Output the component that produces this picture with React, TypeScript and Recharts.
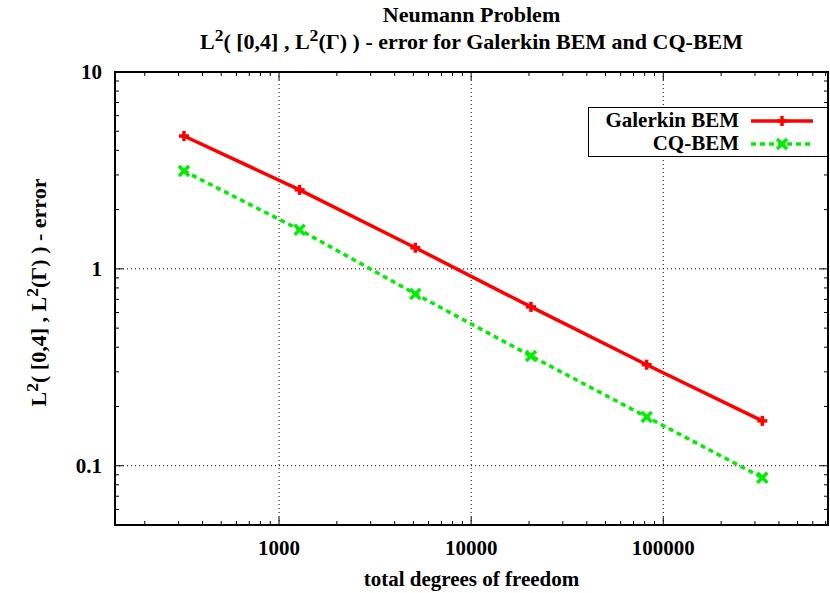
import { LineChart, Line, XAxis, YAxis, ReferenceLine, ReferenceArea } from 'recharts';

// total degrees of freedom for each refinement level
const dofs = [320, 1280, 5120, 20480, 81920, 327680];
// L2(L2) error values
const galerkinErr = [4.73, 2.52, 1.28, 0.641, 0.326, 0.169];
const cqErr = [3.14, 1.58, 0.746, 0.361, 0.177, 0.087];

const xMajor = [1000, 10000, 100000];
const yMajor = [0.1, 1, 10];
const mantissas = [2, 3, 4, 5, 6, 7, 8, 9];
const xMinor = [100, 1000, 10000, 100000].flatMap((d) => mantissas.map((m) => m * d)).filter((v) => v > 140 && v < 720000);
const yMinor = [0.01, 0.1, 1].flatMap((d) => mantissas.map((m) => m * d)).filter((v) => v >= 0.05 && v < 10);

const data = dofs.map((dof, i) => ({ dof, galerkin: galerkinErr[i], cq: cqErr[i] }));

const FONT = '"Liberation Serif", "Times New Roman", serif';
const FS = 21;
const PLOT_LEFT = 115;
const PLOT_RIGHT = 828;
const PLOT_TOP = 72;
const PLOT_BOTTOM = 525;

function XTick(props: any) {
  const { x, payload } = props;
  const major = xMajor.includes(payload.value);
  const len = major ? 8 : 4;
  return (
    <g>
      <line x1={x} x2={x} y1={PLOT_BOTTOM} y2={PLOT_BOTTOM - len} stroke="#000" strokeWidth={1} />
      <line x1={x} x2={x} y1={PLOT_TOP} y2={PLOT_TOP + len} stroke="#000" strokeWidth={1} />
      {major && (
        <text x={x} y={555} textAnchor="middle" fontFamily={FONT} fontWeight="bold" fontSize={FS} fill="#000">
          {payload.value}
        </text>
      )}
    </g>
  );
}

function YTick(props: any) {
  const { y, payload } = props;
  const major = yMajor.includes(payload.value);
  const len = major ? 8 : 4;
  return (
    <g>
      <line x1={PLOT_LEFT} x2={PLOT_LEFT + len} y1={y} y2={y} stroke="#000" strokeWidth={1} />
      <line x1={PLOT_RIGHT} x2={PLOT_RIGHT - len} y1={y} y2={y} stroke="#000" strokeWidth={1} />
      {major && (
        <text x={102} y={y + 7} textAnchor="end" fontFamily={FONT} fontWeight="bold" fontSize={FS} fill="#000">
          {payload.value}
        </text>
      )}
    </g>
  );
}

function PlusDot(props: any) {
  const { cx, cy } = props;
  return (
    <g>
      <line x1={cx - 5} x2={cx + 5} y1={cy} y2={cy} stroke="#ff0000" strokeWidth={3.5} />
      <line x1={cx} x2={cx} y1={cy - 5} y2={cy + 5} stroke="#ff0000" strokeWidth={3.5} />
    </g>
  );
}

function CrossDot(props: any) {
  const { cx, cy } = props;
  return (
    <g>
      <line x1={cx - 5} x2={cx + 5} y1={cy - 5} y2={cy + 5} stroke="#00ee00" strokeWidth={3.5} />
      <line x1={cx - 5} x2={cx + 5} y1={cy + 5} y2={cy - 5} stroke="#00ee00" strokeWidth={3.5} />
    </g>
  );
}

const sup = { fontSize: '0.8em', position: 'relative' as const, top: '-0.45em' };

export default function App() {
  return (
    <div style={{ position: 'absolute', left: 0, top: 0, width: 830, height: 593, background: '#fff', fontFamily: FONT }}>
      <LineChart width={830} height={593} data={data} margin={{ top: 72, right: 2, bottom: 28, left: 55 }}>
        <XAxis
          dataKey="dof"
          type="number"
          scale="log"
          domain={[140, 720000]}
          allowDataOverflow
          ticks={[...xMinor, ...xMajor]}
          interval={0}
          height={40}
          tick={<XTick />}
          tickLine={false}
          axisLine={false}
        />
        <YAxis
          type="number"
          scale="log"
          domain={[0.05, 10]}
          allowDataOverflow
          ticks={[...yMinor, ...yMajor]}
          interval={0}
          width={60}
          tick={<YTick />}
          tickLine={false}
          axisLine={false}
        />
        {xMajor.map((v) => (
          <ReferenceLine key={'gx' + v} x={v} stroke="#000" strokeWidth={1} strokeDasharray="1 3" />
        ))}
        {yMajor.filter((v) => v < 10).map((v) => (
          <ReferenceLine key={'gy' + v} y={v} stroke="#000" strokeWidth={1} strokeDasharray="1 3" />
        ))}
        <ReferenceArea x1={140} x2={720000} y1={0.05} y2={10} fill="none" stroke="#000" strokeWidth={2} />
        <Line dataKey="galerkin" stroke="#ff0000" strokeWidth={3.5} dot={<PlusDot />} isAnimationActive={false} />
        <Line dataKey="cq" stroke="#00ee00" strokeWidth={3.5} strokeDasharray="5 4" dot={<CrossDot />} isAnimationActive={false} />
      </LineChart>

      <div style={{ position: 'absolute', left: 115, width: 713, top: 1, textAlign: 'center', fontWeight: 'bold', fontSize: 22, lineHeight: '27px' }}>
        <div>Neumann Problem</div>
        <div>
          L<span style={sup}>2</span>( [0,4] , L<span style={sup}>2</span>(Γ) ) - error for Galerkin BEM and CQ-BEM
        </div>
      </div>

      <div style={{ position: 'absolute', left: 115, width: 713, top: 566, textAlign: 'center', fontWeight: 'bold', fontSize: FS, lineHeight: '26px' }}>
        total degrees of freedom
      </div>

      <div
        style={{
          position: 'absolute',
          left: 39,
          top: 292,
          width: 340,
          marginLeft: -170,
          marginTop: -14,
          textAlign: 'center',
          fontWeight: 'bold',
          fontSize: 22,
          lineHeight: '28px',
          transform: 'rotate(-90deg)',
          whiteSpace: 'nowrap',
        }}
      >
        L<span style={sup}>2</span>( [0,4] , L<span style={sup}>2</span>(Γ) ) - error
      </div>

      <div style={{ position: 'absolute', left: 588, top: 107, width: 238, height: 48, border: '1px solid #000', background: '#fff', fontWeight: 'bold', fontSize: FS, lineHeight: '22px' }}>
        <div style={{ position: 'absolute', right: 88, top: 1, whiteSpace: 'nowrap' }}>Galerkin BEM</div>
        <div style={{ position: 'absolute', right: 88, top: 24, whiteSpace: 'nowrap' }}>CQ-BEM</div>
        <svg style={{ position: 'absolute', left: 160, top: 0 }} width={70} height={48}>
          <line x1={2} x2={64} y1={13} y2={13} stroke="#ff0000" strokeWidth={3.5} />
          <PlusDot cx={33} cy={13} />
          <line x1={2} x2={64} y1={36} y2={36} stroke="#00ee00" strokeWidth={3.5} strokeDasharray="5 4" />
          <CrossDot cx={33} cy={36} />
        </svg>
      </div>
    </div>
  );
}
